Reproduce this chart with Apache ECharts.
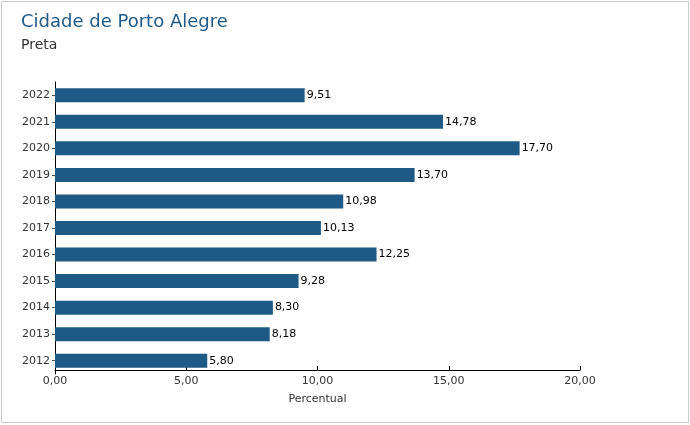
<!DOCTYPE html>
<html><head><meta charset="utf-8">
<script src="https://cdn.jsdelivr.net/npm/echarts@6/dist/echarts.min.js"></script>
<style>html,body{margin:0;padding:0;background:#fff}#c{width:690px;height:425px}</style>
</head><body><div id="c"></div>
<script>
const categories = ['2012','2013','2014','2015','2016','2017','2018','2019','2020','2021','2022'];
const values = [5.80, 8.18, 8.30, 9.28, 12.25, 10.13, 10.98, 13.70, 17.70, 14.78, 9.51];
const titleText = 'Cidade de Porto Alegre';
const subtitleText = 'Preta';
const axisName = 'Percentual';
const fmt = v => v.toFixed(2).replace('.', ',');
const font = 'DejaVu Sans, Verdana, sans-serif';
const chart = echarts.init(document.getElementById('c'), null, {renderer:'canvas'});
chart.setOption({
  animation: false,
  textStyle: {fontFamily: font},
  title: {
    text: titleText, subtext: subtitleText, left: 16, top: 8, itemGap: 7,
    textStyle: {color: '#1f5a8a', fontSize: 18, fontWeight: 'normal', fontFamily: font},
    subtextStyle: {color: '#333', fontSize: 14, fontFamily: font}
  },
  graphic: [{type:'rect', shape:{x:1.5,y:1.5,width:687,height:421}, style:{fill:'none', stroke:'#cccccc', lineWidth:1}, silent:true}],
  grid: {left: 55, right: 110, top: 82, height: 292},
  xAxis: {
    type: 'value', min: 0, max: 20, interval: 5, offset: -4,
    name: axisName, nameLocation: 'middle', nameGap: 24,
    nameTextStyle: {color: '#333', fontSize: 11, fontFamily: font},
    axisLine: {show: true, lineStyle: {color: '#000', width: 1}},
    axisTick: {show: true, length: 4, inside: true, lineStyle: {color: '#000'}},
    axisLabel: {color: '#333', fontSize: 11, fontFamily: font, formatter: v => fmt(v), margin: 6},
    splitLine: {show: false}
  },
  yAxis: {
    type: 'category', data: categories,
    axisLine: {show: true, lineStyle: {color: '#000', width: 1}},
    axisTick: {show: true, length: 3, alignWithLabel: true, lineStyle: {color: '#555'}},
    axisLabel: {color: '#333', fontSize: 11, fontFamily: font, margin: 5}
  },
  series: [{
    type: 'bar', data: values, barWidth: 14,
    itemStyle: {color: '#1f5a87'},
    label: {show: true, position: 'right', distance: 2, color: '#000', fontSize: 11, fontFamily: font,
      textBorderColor: '#fff', textBorderWidth: 2, formatter: p => fmt(p.value)}
  }]
});
</script></body></html>
